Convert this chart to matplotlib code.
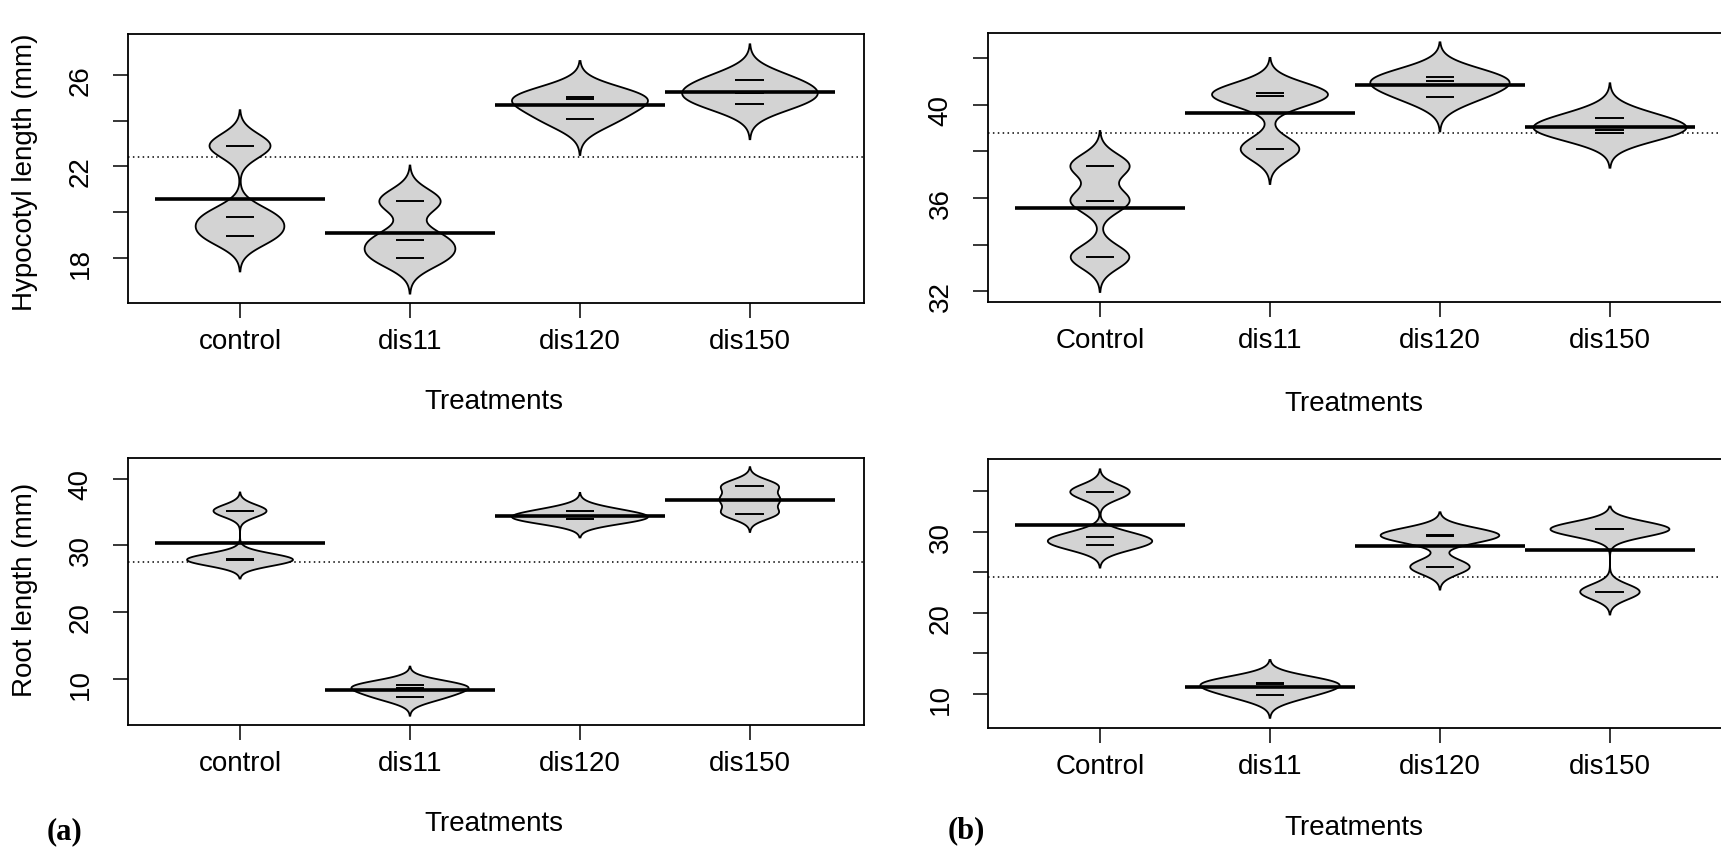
import numpy as np
import matplotlib
matplotlib.use("Agg")
import matplotlib.pyplot as plt

plt.rcParams["font.family"] = ["Liberation Sans", "DejaVu Sans"]

# Treatment names for the two experiments
groups_a = ["control", "dis11", "dis120", "dis150"]
groups_b = ["Control", "dis11", "dis120", "dis150"]

# Hypocotyl length (mm), 3 replicates per treatment
hyp_a = [[22.9, 19.8, 18.97], [20.48, 18.8, 18.0], [25.05, 24.94, 24.06], [25.78, 25.2, 24.75]]
hyp_b = [[37.38, 35.88, 33.46], [40.52, 40.37, 38.1], [41.19, 41.03, 40.36], [39.43, 38.94, 38.8]]

# Root length (mm), 3 replicates per treatment
root_a = [[35.16, 27.9, 27.8], [9.1, 8.7, 7.27], [35.1, 34.0, 33.95], [38.95, 36.86, 34.77]]
root_b = [[34.89, 29.31, 28.36], [11.4, 11.25, 9.85], [29.6, 29.47, 25.65], [30.3, 30.3, 22.58]]

W, H = 1721, 848
FS = 20
fig = plt.figure(figsize=(W / 100, H / 100), dpi=100)


def add_ax(left, top, right, bottom):
    return fig.add_axes([left / W, 1 - bottom / H, (right - left) / W, (bottom - top) / H])


def kde(vals, bw, grid):
    z = (grid[:, None] - np.asarray(vals)[None, :]) / bw
    return np.exp(-0.5 * z ** 2).sum(axis=1) / (len(vals) * bw * np.sqrt(2 * np.pi))


def pirate(ax, data, labels, bw, wmax, ylim, yticks, ylabels):
    grids, dens = [], []
    for vals in data:
        g = np.linspace(min(vals) - 3 * bw, max(vals) + 3 * bw, 512)
        grids.append(g)
        dens.append(kde(vals, bw, g))
    top = max(d.max() for d in dens)

    # grand mean as dotted reference line
    overall = np.mean(np.concatenate(data))
    ax.axhline(overall, color="black", lw=1.1, ls=(0, (1, 2.2)), zorder=1)

    for i, vals in enumerate(data):
        x = i + 1
        half = dens[i] / top * wmax
        px = np.r_[x - half, (x + half)[::-1]]
        py = np.r_[grids[i], grids[i][::-1]]
        ax.fill(px, py, facecolor="lightgray", edgecolor="black", lw=1.3, zorder=2)
        ax.hlines(vals, x - 0.085, x + 0.085, color="black", lw=1.4, zorder=3)
        ax.hlines(np.mean(vals), x - 0.5, x + 0.5, color="black", lw=2.6, zorder=4)

    ax.set_xlim(0.341, 4.671)
    ax.set_ylim(*ylim)
    ax.set_xticks(range(1, 5))
    ax.set_xticklabels(labels, fontsize=FS)
    ax.set_yticks(yticks)
    ax.set_yticklabels(ylabels, fontsize=FS)
    ax.tick_params(axis="both", length=10.8, width=1.1, direction="out")
    ax.tick_params(axis="x", pad=8)
    ax.tick_params(axis="y", pad=14, labelrotation=90)
    for s in ax.spines.values():
        s.set_linewidth(1.3)


ax1 = add_ax(128, 34, 864, 303)
pirate(ax1, hyp_a, groups_a, 0.52, 0.40, (16.03, 27.79),
       [18, 20, 22, 24, 26], ["18", "", "22", "", "26"])

ax2 = add_ax(988, 33, 1724, 302)
pirate(ax2, hyp_b, groups_b, 0.50, 0.45, (31.53, 43.09),
       [32, 34, 36, 38, 40, 42], ["32", "", "36", "", "40", ""])

ax3 = add_ax(128, 458, 864, 725)
pirate(ax3, root_a, groups_a, 0.92, 0.40, (3.12, 43.08),
       [10, 20, 30, 40], ["10", "20", "30", "40"])

ax4 = add_ax(988, 459, 1724, 728)
pirate(ax4, root_b, groups_b, 0.93, 0.41, (5.81, 38.95),
       [10, 15, 20, 25, 30, 35], ["10", "", "20", "", "30", ""])

# axis titles
fig.text(494 / W, 1 - 409 / H, "Treatments", ha="center", va="baseline", fontsize=FS)
fig.text(1354 / W, 1 - 411 / H, "Treatments", ha="center", va="baseline", fontsize=FS)
fig.text(494 / W, 1 - 831 / H, "Treatments", ha="center", va="baseline", fontsize=FS)
fig.text(1354 / W, 1 - 835 / H, "Treatments", ha="center", va="baseline", fontsize=FS)
fig.text(25 / W, 1 - 172 / H, "Hypocotyl length (mm)", rotation=90, ha="center", va="center", fontsize=FS)
fig.text(25 / W, 1 - 590 / H, "Root length (mm)", rotation=90, ha="center", va="center", fontsize=FS)

# panel tags
fig.text(65 / W, 1 - 832 / H, "(a)", ha="center", va="center", fontsize=22,
         family="Liberation Serif", weight="bold")
fig.text(966 / W, 1 - 831 / H, "(b)", ha="center", va="center", fontsize=22,
         family="Liberation Serif", weight="bold")

fig.savefig("out.png", dpi=100)
